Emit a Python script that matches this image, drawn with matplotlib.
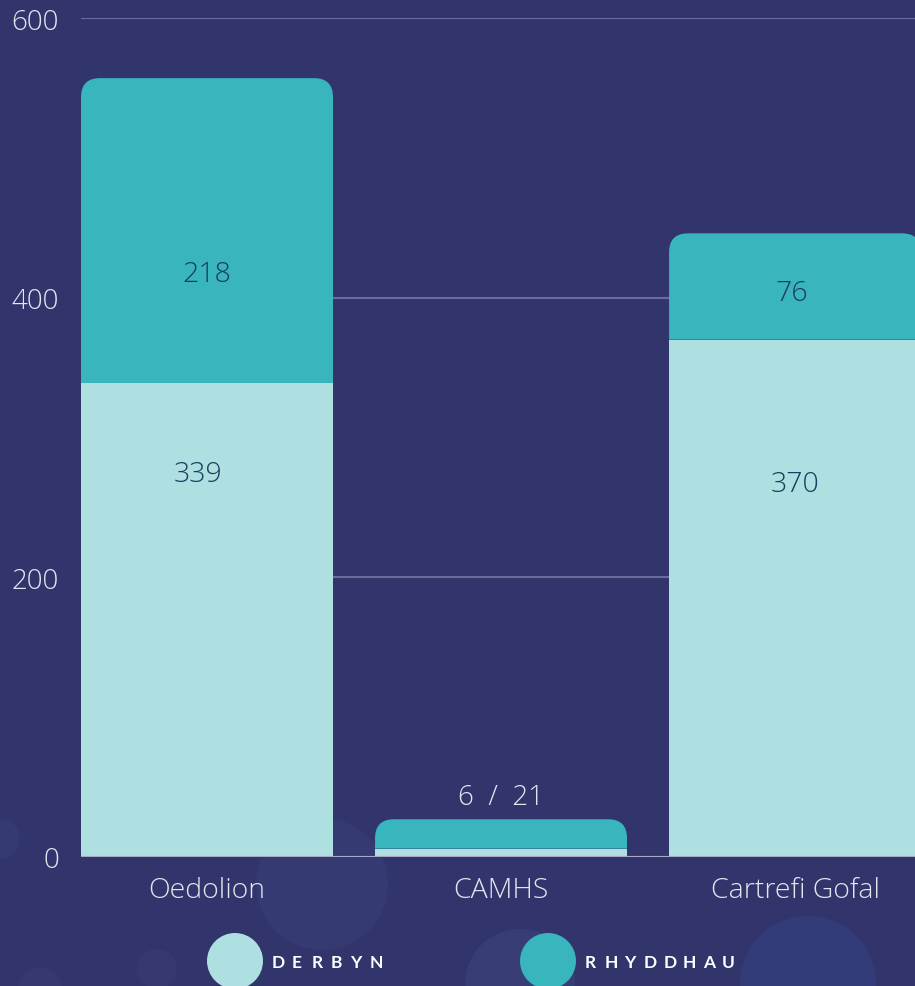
import matplotlib
matplotlib.use("Agg")
import matplotlib.pyplot as plt
from matplotlib.path import Path
from matplotlib.patches import PathPatch, Circle

categories = ["Oedolion", "CAMHS", "Cartrefi Gofal"]
derbyn = [339, 6, 370]
rhyddhau = [218, 21, 76]
series_names = ["DERBYN", "RHYDDHAU"]
yticks = [0, 200, 400, 600]

BG = "#31356B"
LIGHT = "#AEDFE1"
TEAL = "#38B5BD"
GRID = "#6A6C9C"
BASE = "#A8A9C4"
TXT = "#E4E4F0"
VAL = "#1D3D5E"

W, H = 915, 987
fig = plt.figure(figsize=(W / 100, H / 100), dpi=100, facecolor=BG)

# faint decorative circles
for (cx, cy, r, col) in [(322, 885, 66, "#363A72"), (0, 840, 20, "#363A72"),
                         (40, 990, 22, "#35396F"), (157, 970, 20, "#35396F"),
                         (520, 985, 55, "#393D75"), (808, 985, 68, "#333C78")]:
    fig.patches.append(Circle((cx / 100, (H - cy) / 100), r / 100, transform=fig.dpi_scale_trans,
                              facecolor=col, edgecolor="none", zorder=-5))

ax = fig.add_axes([81 / W, 129 / H, (W - 81) / W, 839 / H])
ax.set_zorder(1)
ax.patch.set_alpha(0)
xlo, xhi = -0.4286, 2.408
ax.set_xlim(xlo, xhi)
ax.set_ylim(0, 600)
for s in ax.spines.values():
    s.set_visible(False)
ax.set_axisbelow(True)
ax.yaxis.grid(True, color=GRID, linewidth=1.5)
ax.set_yticks(yticks)
ax.set_yticklabels([str(v) for v in yticks])
ax.tick_params(axis="y", length=0, pad=16, labelsize=20, labelcolor=TXT)
ax.set_xticks(range(len(categories)))
ax.set_xticklabels(categories)
ax.tick_params(axis="x", length=0, pad=14, labelsize=20.5, labelcolor=TXT)
for lab in ax.get_xticklabels() + ax.get_yticklabels():
    lab.set_fontfamily(["Open Sans", "DejaVu Sans"])
    lab.set_fontweight("light")

x = list(range(len(categories)))
width = 0.857
b1 = ax.bar(x, derbyn, width=width, color=LIGHT, zorder=2)
b2 = ax.bar(x, rhyddhau, width=width, bottom=derbyn, color=TEAL, zorder=2)

# convert corner radius in px to data units
pxx = ax.get_position().width * W / (xhi - xlo)
pxy = ax.get_position().height * H / 600
rpx = 19
rx, ry = rpx / pxx, rpx / pxy
for rect in b2:
    x0, y0 = rect.get_x(), rect.get_y()
    w, h = rect.get_width(), rect.get_height()
    rect.set_visible(False)
    top = y0 + h
    r_y = min(ry, h)
    verts = [(x0, y0), (x0, top - r_y), (x0, top), (x0 + rx, top), (x0 + w - rx, top),
             (x0 + w, top), (x0 + w, top - r_y), (x0 + w, y0), (x0, y0)]
    codes = [Path.MOVETO, Path.LINETO, Path.CURVE3, Path.CURVE3, Path.LINETO,
             Path.CURVE3, Path.CURVE3, Path.LINETO, Path.CLOSEPOLY]
    ax.add_patch(PathPatch(Path(verts, codes), facecolor=TEAL, edgecolor="none", zorder=2))

ax.axhline(0, color=BASE, linewidth=1.5, zorder=3)

# value labels (positions as seen in the reference)
vfont = dict(fontsize=20.5, color=VAL, family=["Open Sans", "DejaVu Sans"], fontweight="light",
             ha="center", va="center", zorder=4)
ax.text(0.0, 417, str(rhyddhau[0]), **vfont)
ax.text(-0.03, 274, str(derbyn[0]), **vfont)
ax.text(2 - 0.01, 403, str(rhyddhau[2]), **vfont)
ax.text(2.0, 267, str(derbyn[2]), **vfont)
ax.text(1.0, 43, f"{derbyn[1]}  /  {rhyddhau[1]}", fontsize=20, color=TXT,
        family=["Open Sans", "DejaVu Sans"], fontweight="light", ha="center", va="center", zorder=4)

# legend
for (cx, col, name) in [(235, LIGHT, series_names[0]), (548, TEAL, series_names[1])]:
    fig.patches.append(Circle((cx / 100, (H - 962) / 100), 0.28, transform=fig.dpi_scale_trans,
                              facecolor=col, edgecolor="none", zorder=5))
    tx = cx + 37
    for i, ch in enumerate(name):
        fig.text((tx + i * 19.6) / W, (H - 963) / H, ch, fontsize=12.5, fontweight="bold",
                 color="white", family=["Lato", "DejaVu Sans"],
                 ha="left", va="center", zorder=6)

fig.savefig("out.png", dpi=100, facecolor=BG)
